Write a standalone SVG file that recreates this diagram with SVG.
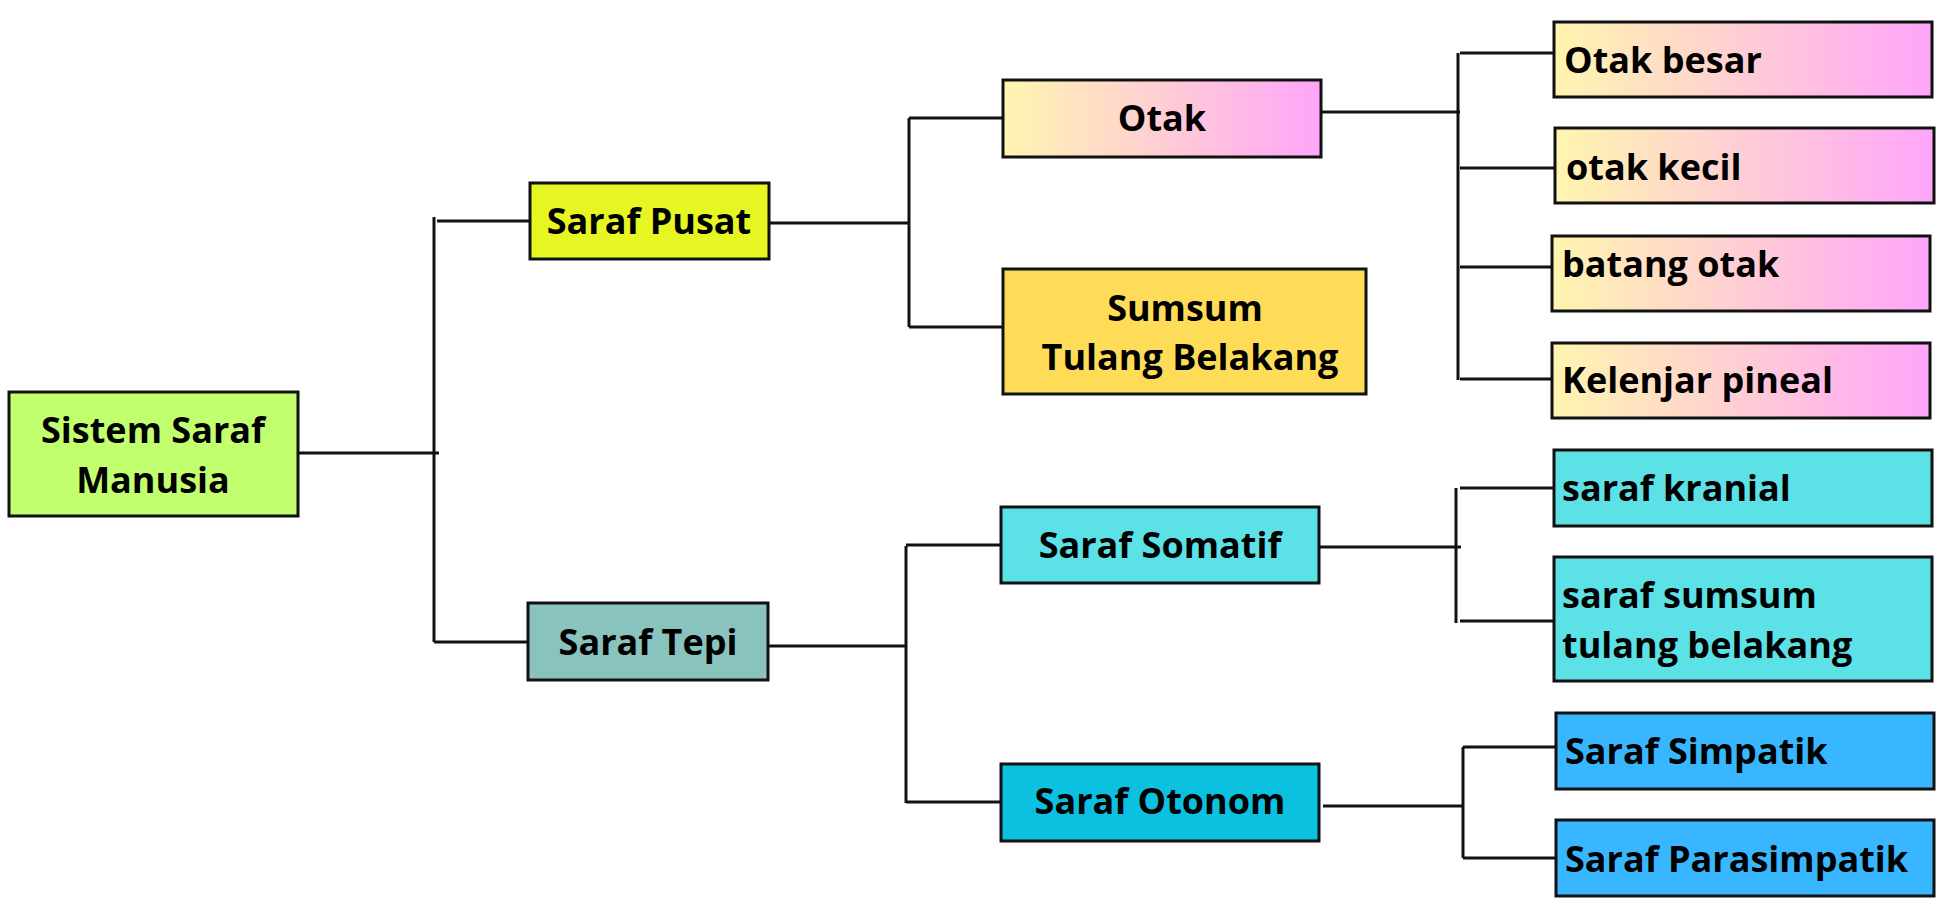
<svg xmlns="http://www.w3.org/2000/svg" width="1942" height="906" viewBox="0 0 1942 906">
<defs>
<linearGradient id="g" x1="0" y1="0" x2="1" y2="0">
<stop offset="0" stop-color="#FFF5AF"/>
<stop offset="1" stop-color="#FFA5FA"/>
</linearGradient>
</defs>
<style>
.n rect{stroke:#111;stroke-width:3}
text{font-family:"Open Sans","Noto Sans","DejaVu Sans",sans-serif;font-weight:700;font-size:36px;fill:#000}
.c{text-anchor:middle}
#connectors path{fill:none;stroke:#111;stroke-width:3}
</style>
<rect x="0" y="0" width="1942" height="906" fill="#fff"/>
<g id="connectors">
<path d="M297 453H439M434 217V642M437 221H529M434 642H528"/>
<path d="M769 223H909M909 118V327M909 118H1003M909 327H1003"/>
<path d="M1322 112H1460M1458 53V380M1460 53H1554M1460 168H1555M1460 267H1552M1460 379H1552"/>
<path d="M768 646H907M906 546V803M906 545H1001M906 802H1001"/>
<path d="M1319 547H1461M1456 488V623M1460 488H1554M1460 621H1554"/>
<path d="M1323 806H1463M1463 747V858M1463 747H1556M1463 858H1556"/>
</g>
<g id="root" class="n"><rect x="9" y="392" width="289" height="124" fill="#C2FF6F"/><text class="c" x="153" y="443">Sistem Saraf</text><text class="c" x="153" y="493">Manusia</text></g>
<g id="saraf-pusat" class="n"><rect x="530" y="183" width="239" height="76" fill="#E5F623"/><text class="c" x="649" y="234">Saraf Pusat</text></g>
<g id="saraf-tepi" class="n"><rect x="528" y="603" width="240" height="77" fill="#89C3BE"/><text class="c" x="648" y="655">Saraf Tepi</text></g>
<g id="otak" class="n"><rect x="1003" y="80" width="318" height="77" fill="url(#g)"/><text class="c" x="1162" y="131">Otak</text></g>
<g id="sumsum" class="n"><rect x="1003" y="269" width="363" height="125" fill="#FFDC58"/><text class="c" x="1185" y="321">Sumsum</text><text class="c" x="1190" y="370">Tulang Belakang</text></g>
<g id="saraf-somatif" class="n"><rect x="1001" y="507" width="318" height="76" fill="#5CE1E6"/><text class="c" x="1160" y="558">Saraf Somatif</text></g>
<g id="saraf-otonom" class="n"><rect x="1001" y="764" width="318" height="77" fill="#0CC0DF"/><text class="c" x="1160" y="814">Saraf Otonom</text></g>
<g id="otak-besar" class="n"><rect x="1554" y="22" width="378" height="75" fill="url(#g)"/><text x="1564" y="73">Otak besar</text></g>
<g id="otak-kecil" class="n"><rect x="1555" y="128" width="379" height="75" fill="url(#g)"/><text x="1566" y="180">otak kecil</text></g>
<g id="batang-otak" class="n"><rect x="1552" y="236" width="378" height="75" fill="url(#g)"/><text x="1562" y="277">batang otak</text></g>
<g id="kelenjar-pineal" class="n"><rect x="1552" y="343" width="378" height="75" fill="url(#g)"/><text x="1562" y="393">Kelenjar pineal</text></g>
<g id="saraf-kranial" class="n"><rect x="1554" y="450" width="378" height="76" fill="#5CE1E6"/><text x="1562" y="501">saraf kranial</text></g>
<g id="saraf-sumsum" class="n"><rect x="1554" y="557" width="378" height="124" fill="#5CE1E6"/><text x="1562" y="608">saraf sumsum</text><text x="1562" y="658">tulang belakang</text></g>
<g id="saraf-simpatik" class="n"><rect x="1556" y="713" width="378" height="76" fill="#38B6FF"/><text x="1565" y="764">Saraf Simpatik</text></g>
<g id="saraf-parasimpatik" class="n"><rect x="1556" y="820" width="378" height="76" fill="#38B6FF"/><text x="1565" y="872">Saraf Parasimpatik</text></g>
</svg>
